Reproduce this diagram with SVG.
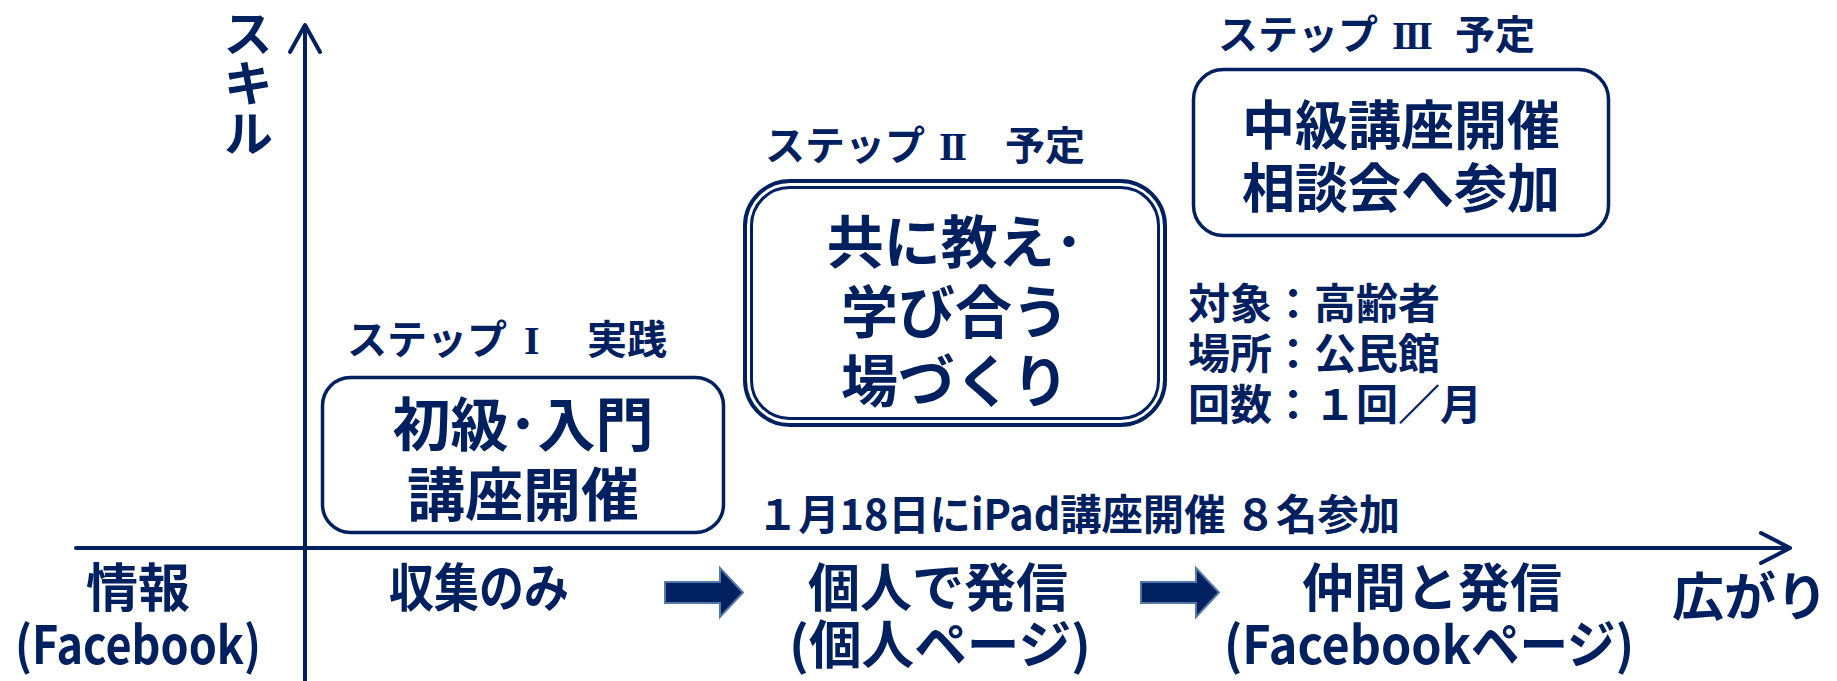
<svg xmlns="http://www.w3.org/2000/svg" width="1837" height="681" viewBox="0 0 1837 681">
<style>
text{font-family:"Noto Sans CJK JP","Noto Sans",sans-serif;font-weight:700;fill:#002060}
.rn{font-family:"Liberation Serif",serif;font-weight:700}
.box{fill:#fff;stroke:#002060}
.axis{fill:none;stroke:#002060;stroke-width:4;stroke-linecap:round;stroke-linejoin:round}
.blk{fill:#002060;stroke:#5478a8;stroke-width:2}
.c{text-anchor:middle}
.t58{font-size:58px}.t57{font-size:57px}.t53{font-size:53px}.t52{font-size:52px}.t50{font-size:50px}.t42{font-size:42px}.t40{font-size:40px}
</style>
<rect width="1837" height="681" fill="#fff"/>
<g id="connectors">
<line class="axis" x1="305" y1="681" x2="305" y2="26"/>
<polyline class="axis" points="290,52 305,25 320,52"/>
<line class="axis" x1="76" y1="548" x2="1789" y2="548"/>
<polyline class="axis" points="1761,533 1790,548 1761,563"/>
<path id="arrow1" class="blk" d="M665,582 L720,582 L720,568 L743,592.5 L720,617 L720,603 L665,603 Z"/>
<path id="arrow2" class="blk" d="M665,582 L720,582 L720,568 L743,592.5 L720,617 L720,603 L665,603 Z" transform="translate(476,0)"/>
</g>
<g id="axis-y-label">
<text class="t50" x="248" y="8" writing-mode="vertical-rl">スキル</text>
</g>
<g id="step1">
<text class="t40" x="347" y="354">ステップ<tspan class="rn" x="524">I</tspan><tspan x="587">実践</tspan></text>
<rect class="box" x="322.5" y="377.5" width="401" height="155" rx="28" stroke-width="3.5"/>
<text class="t58 c" x="523" y="446">初級･入門<tspan x="523" y="516">講座開催</tspan></text>
</g>
<g id="step2">
<text class="t40" x="765" y="160">ステップ<tspan class="rn" x="939" letter-spacing="-3">II</tspan><tspan x="1005">予定</tspan></text>
<rect class="box" x="745" y="181" width="420" height="244" rx="45" stroke-width="4"/>
<rect class="box" x="751.5" y="187.5" width="407" height="231" rx="38" stroke-width="3"/>
<text class="t57 c" x="955" y="263">共に教え･<tspan x="955" y="333">学び合う</tspan><tspan x="955" y="402">場づくり</tspan></text>
</g>
<g id="step3">
<text class="t40" x="1218" y="49">ステップ<tspan class="rn" x="1392" letter-spacing="-3">III</tspan><tspan x="1455">予定</tspan></text>
<rect class="box" x="1193.5" y="69.5" width="415" height="166" rx="30" stroke-width="3.5"/>
<text class="t53 c" x="1401" y="145">中級講座開催<tspan x="1401" y="208">相談会へ参加</tspan></text>
</g>
<g id="info">
<text class="t42" x="1188" y="319">対象：高齢者<tspan x="1188" y="369">場所：公民館</tspan><tspan x="1188" y="420">回数：１回／月</tspan></text>
</g>
<g id="note">
<text class="t42" x="757" y="530" textLength="643" lengthAdjust="spacingAndGlyphs">１月18日にiPad講座開催 ８名参加</text>
</g>
<g id="stage0">
<text class="t52 c" x="138" y="607">情報<tspan x="138" y="664" textLength="246" lengthAdjust="spacingAndGlyphs">(Facebook)</tspan></text>
</g>
<g id="stage1">
<text class="t52 c" x="479" y="607" textLength="180" lengthAdjust="spacingAndGlyphs">収集のみ</text>
</g>
<g id="stage2">
<text class="t52 c" x="938" y="607">個人で発信<tspan x="940" y="664" textLength="302" lengthAdjust="spacingAndGlyphs">(個人ページ)</tspan></text>
</g>
<g id="stage3">
<text class="t52 c" x="1432" y="607">仲間と発信<tspan x="1429" y="664" textLength="410" lengthAdjust="spacingAndGlyphs">(Facebookページ)</tspan></text>
</g>
<g id="axis-x-label">
<text class="t52 c" x="1750" y="616">広がり</text>
</g>
</svg>
